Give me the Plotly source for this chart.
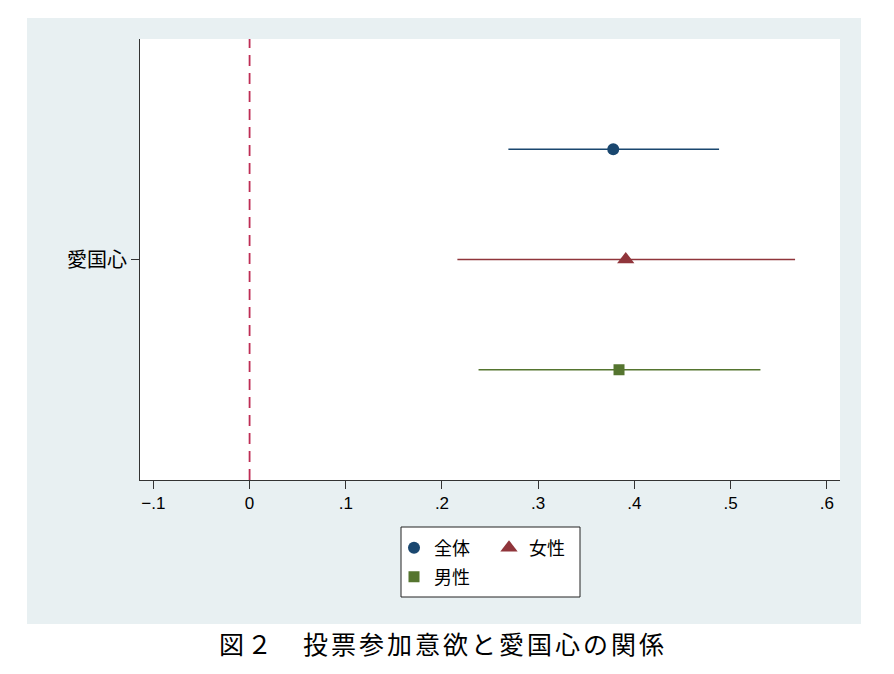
import plotly.graph_objects as go

# Coefficient for 愛国心 with 95% confidence intervals, by sample
variable = "愛国心"
groups = ["全体", "女性", "男性"]
estimates = [0.378, 0.391, 0.384]
ci_low = [0.269, 0.216, 0.238]
ci_high = [0.488, 0.567, 0.531]

x_ticks = [-0.1, 0, 0.1, 0.2, 0.3, 0.4, 0.5, 0.6]
x_tick_labels = ["−.1", "0", ".1", ".2", ".3", ".4", ".5", ".6"]

colors = ["#1A476F", "#90353B", "#55752F"]
symbols = ["circle", "triangle-up", "square"]
sizes = [12, 15, 11]
offsets = [1, 0, -1]          # vertical offset of each group around the variable
legend_ids = ["legend", "legend", "legend2"]

W, H = 894, 674
L, R, T, B = 140, 54, 39, 194
pw, ph = W - L - R, H - T - B


def px_x(p):
    return (p - L) / pw


def px_y(p):
    return (H - B - p) / ph


CJK = "Noto Sans CJK JP, sans-serif"
NUM = "Liberation Sans Narrow, Liberation Sans, Arial, sans-serif"

fig = go.Figure()
base = 2
for g, est, lo, hi, c, s, sz, off, lg in zip(groups, estimates, ci_low, ci_high,
                                           colors, symbols, sizes, offsets, legend_ids):
    fig.add_trace(go.Scatter(
        x=[est], y=[base + off], mode="markers", name=g, legend=lg,
        marker=dict(symbol=s, size=sz, color=c),
        error_x=dict(type="data", symmetric=False, array=[hi - est], arrayminus=[est - lo],
                     color=c, thickness=1.7, width=0),
    ))

shapes = [
    # outer tinted panel
    dict(type="rect", xref="paper", yref="paper", layer="below",
         x0=px_x(27), x1=px_x(861), y0=px_y(18), y1=px_y(624),
         fillcolor="#E8F0F2", line=dict(width=0)),
    # white plot region
    dict(type="rect", xref="paper", yref="paper", layer="below",
         x0=0, x1=1, y0=0, y1=1, fillcolor="white", line=dict(width=0)),
    # legend box
    dict(type="rect", xref="paper", yref="paper", layer="below",
         x0=px_x(401), x1=px_x(580), y0=px_y(527), y1=px_y(597),
         fillcolor="white", line=dict(color="#222222", width=1)),
    # reference line at zero
    dict(type="line", xref="x", yref="paper", x0=0, x1=0, y0=0, y1=1,
         line=dict(color="#BE2D55", width=1.8, dash="11px,7px")),
]

legend_common = dict(orientation="h", bgcolor="rgba(0,0,0,0)", borderwidth=0,
                     font=dict(family=CJK, size=18, color="#000000"),
                     xanchor="left", yanchor="middle", itemwidth=30,
                     tracegroupgap=0)

fig.update_layout(
    width=W, height=H,
    margin=dict(l=L, r=R, t=T, b=B),
    paper_bgcolor="white", plot_bgcolor="white",
    showlegend=True,
    legend=dict(**legend_common, x=px_x(394), y=px_y(548), entrywidth=50),
    legend2=dict(**legend_common, x=px_x(394), y=px_y(577)),
    shapes=shapes,
    xaxis=dict(range=[-0.1139, 0.6137], tickvals=x_ticks, ticktext=x_tick_labels,
               showgrid=False, zeroline=False, showline=True, linecolor="#333333",
               linewidth=1, ticks="outside", ticklen=8, tickcolor="#333333",
               tickfont=dict(family=NUM, size=17, color="#000000")),
    yaxis=dict(range=[0, 4], tickvals=[base], ticktext=[variable],
               showgrid=False, zeroline=False, showline=True, linecolor="#333333",
               linewidth=1, ticks="outside", ticklen=8, tickcolor="#333333",
               tickfont=dict(family=CJK, size=20, color="#000000")),
    annotations=[dict(
        text='<span style="letter-spacing:3px">図２　投票参加意欲と愛国心の関係</span>',
        xref="paper", yref="paper", x=px_x(443), y=px_y(643),
        xanchor="center", yanchor="middle", showarrow=False,
        font=dict(family=CJK, size=25, color="#000000"),
    )],
)

fig.write_html("out.html")
